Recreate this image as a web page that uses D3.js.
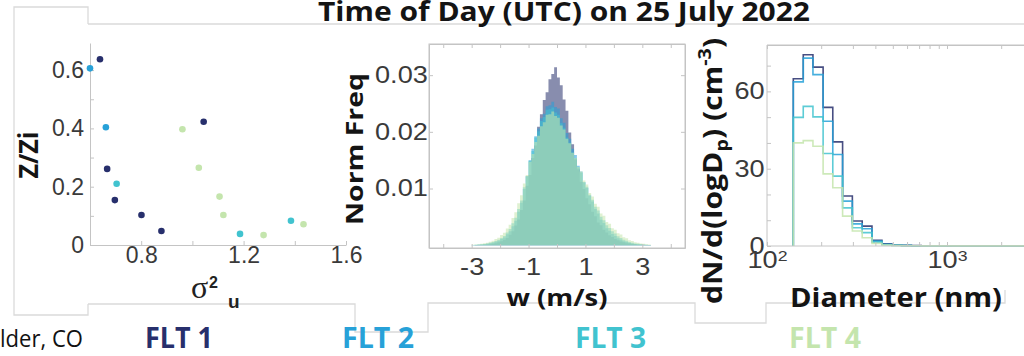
<!DOCTYPE html>
<html>
<head>
<meta charset="utf-8">
<script src="https://cdn.jsdelivr.net/npm/d3@7"></script>
<style>
  html, body { margin: 0; padding: 0; background: #fff; }
  svg { display: block; }
  .tick text { font-family: "Liberation Sans", Arial, sans-serif; font-size: 23px; fill: #3a3a3a; }
  .tick line, .domain { stroke: #c4c4c4; }
  .bold { font-family: "Open Sans", sans-serif; font-weight: 700; fill: #141414; }
</style>
</head>
<body>
<svg id="fig" width="1024" height="356"></svg>
<script>
// ---- data ----
const flights = ["FLT 1", "FLT 2", "FLT 3", "FLT 4"];
const flightColors = ["#272f6c", "#27a1d8", "#41c3cf", "#c4e5ad"];

// left panel: variance of u vs normalised height
const sigmaU = [
  [0.639, 1.044, 0.667, 0.697, 0.801, 0.879],
  [0.600, 0.662],
  [0.704, 1.186, 1.385],
  [0.961, 1.025, 1.106, 1.121, 1.278, 1.434]
];
const zOverZi = [
  [0.637, 0.423, 0.261, 0.154, 0.103, 0.048],
  [0.606, 0.404],
  [0.210, 0.038, 0.083],
  [0.397, 0.265, 0.166, 0.103, 0.034, 0.071]
];

// middle panel: histograms of w, bins of 0.1 m/s from -3.0, normalised freq in units of 1e-3
const wBinStart = -3.0;
const wBinWidth = 0.1;
const wFreq1 = [0.00, 0.02, 0.03, 0.05, 0.07, 0.13, 0.17, 0.27, 0.35, 0.52, 0.68, 0.97, 1.28, 1.84, 2.46, 3.45, 4.55, 6.2, 7.9, 10.5,
  12.4, 15.4, 17.6, 20.9, 23.1, 25.6, 27.0, 29.3, 30.2, 31.4, 29.6, 28.2, 25.7, 23.7, 19.9, 17.8, 15.1, 13.4, 11.2, 9.9,
  8.3, 7.2, 5.9, 5.1, 4.0, 3.5, 2.7, 2.25, 1.75, 1.42, 1.08, 0.87, 0.63, 0.51, 0.36, 0.28, 0.19, 0.15, 0.09, 0.07, 0.05, 0.03, 0.02];
const wFreq2 = [0.03, 0.05, 0.08, 0.12, 0.18, 0.23, 0.34, 0.44, 0.62, 0.78, 1.08, 1.37, 1.93, 2.46, 3.35, 4.3, 5.9, 7.5, 9.9, 12.2,
  15.0, 17.0, 19.2, 20.6, 22.4, 23.2, 24.5, 24.7, 25.3, 24.4, 24.1, 22.4, 21.6, 19.8, 18.8, 17.0, 15.9, 14.0, 13.0, 11.1,
  10.1, 8.7, 7.7, 6.4, 5.6, 4.5, 3.9, 3.0, 2.55, 1.95, 1.62, 1.22, 0.97, 0.7, 0.55, 0.39, 0.3, 0.2, 0.15, 0.1, 0.07, 0.05, 0.03];
const wFreq3 = [0.04, 0.06, 0.1, 0.14, 0.22, 0.29, 0.42, 0.54, 0.75, 0.94, 1.28, 1.62, 2.24, 2.86, 3.86, 4.85, 6.4, 7.9, 10.2, 12.1,
  14.9, 16.6, 19.0, 20.1, 21.9, 22.6, 23.9, 24.0, 24.3, 23.4, 23.0, 21.5, 20.7, 19.0, 18.1, 16.4, 15.4, 13.7, 12.8, 11.1,
  10.3, 8.9, 8.0, 6.8, 6.1, 5.0, 4.4, 3.5, 3.05, 2.45, 2.05, 1.56, 1.28, 0.95, 0.77, 0.55, 0.44, 0.31, 0.24, 0.15, 0.12, 0.07, 0.05];
const wFreq4 = [0.08, 0.12, 0.18, 0.23, 0.34, 0.44, 0.62, 0.78, 1.08, 1.32, 1.8, 2.2, 2.96, 3.62, 4.8, 5.8, 7.4, 8.8, 10.9, 12.4,
  14.7, 16.1, 18.2, 19.3, 21.0, 21.7, 23.0, 23.1, 23.6, 22.8, 22.5, 21.1, 20.4, 18.8, 18.0, 16.3, 15.4, 13.8, 13.0, 11.4,
  10.7, 9.2, 8.6, 7.3, 6.8, 5.6, 5.2, 4.1, 3.8, 3.0, 2.7, 2.1, 1.9, 1.4, 1.2, 0.85, 0.74, 0.5, 0.42, 0.28, 0.23, 0.14, 0.1];

// right panel: size distribution, bin edges in nm
const diamEdges = [140, 159, 180, 205, 232, 263, 298, 338, 383, 435, 493, 559, 634, 719, 816, 925,
  1049, 1190, 1350, 1531, 1737, 1970, 2234, 2534, 2875];
const dNdlogD1 = [64.9, 74.2, 69.4, 53.8, 40.4, 19.4, 9.7, 7.7, 2.2, 0.9, 0.4, 0.25, 0.15, 0.1, 0.1, 0.05, 0.1, 0.05, 0.05, 0.1, 0.05, 0.05, 0.05, 0.05];
const dNdlogD2 = [63.7, 72.9, 66.5, 48.4, 35.5, 17.4, 8.6, 6.7, 1.9, 0.7, 0.3, 0.2, 0.1, 0.1, 0.05, 0.05, 0.1, 0.05, 0.05, 0.05, 0.05, 0.05, 0.05, 0.05];
const dNdlogD3 = [49.9, 54.2, 50.1, 35.9, 27.1, 14.8, 7.1, 5.2, 1.5, 0.5, 0.25, 0.15, 0.1, 0.05, 0.05, 0.05, 0.05, 0.05, 0.05, 0.05, 0.05, 0.05, 0.05, 0.05];
const dNdlogD4 = [40.0, 40.9, 38.7, 28.0, 22.6, 11.6, 5.8, 3.2, 1.0, 0.4, 0.2, 0.1, 0.1, 0.05, 0.05, 0.05, 0.05, 0.05, 0.05, 0.05, 0.05, 0.05, 0.05, 0.05];

const p1Ticks = [0, 0.1, 0.2, 0.3, 0.4, 0.5, 0.6];
const p1XTicks = [0.8, 1.0, 1.2, 1.4, 1.6];
const p2YTicks = [10, 20, 30];
const p2XTicks = [-4, -3, -2, -1, 0, 1, 2, 3, 4];
const p3YTicks = [0, 10, 20, 30, 40, 50, 60, 70];
const p3XTicks = [100, 200, 300, 400, 500, 600, 700, 800, 900, 1000, 2000];

const svg = d3.select("#fig");
const frameColor = "#dadada";

// ---- slide frame lines (pieces of the composite) ----
const frames = [
  [[88, 24], [88, 7], [14, 7], [14, 315], [88, 315], [88, 304]],
  [[88, 24], [1024, 24]],
  [[88, 304], [355, 304], [355, 332], [428, 332], [428, 303], [695, 303], [695, 323], [766, 323], [766, 303], [1005, 303], [1005, 290]]
];
svg.selectAll(".frame").data(frames).enter().append("path")
  .attr("d", d3.line())
  .attr("fill", "none").attr("stroke", frameColor).attr("stroke-width", 1.3);

// ---- panel 1 ----
const x1 = d3.scaleLinear().domain([0.6, 1.6]).range([90, 346]);
const y1 = d3.scaleLinear().domain([0, 0.693]).range([245, 43]);

svg.append("g").attr("transform", "translate(90,0)")
  .call(d3.axisLeft(y1).tickValues(p1Ticks).tickSizeInner(-4).tickSizeOuter(0).tickPadding(6)
    .tickFormat(d => [0, 0.2, 0.4, 0.6].includes(d) ? (d === 0 ? "0" : d.toFixed(1)) : ""));
svg.append("g").attr("transform", "translate(0,245)")
  .call(d3.axisBottom(x1).tickValues(p1XTicks).tickSizeInner(-4).tickSizeOuter(0).tickPadding(2)
    .tickFormat(d => [0.8, 1.2, 1.6].includes(d) ? d.toFixed(1) : ""));

flights.forEach((f, k) => {
  svg.append("g").selectAll("circle")
    .data(d3.zip(sigmaU[k], zOverZi[k]))
    .enter().append("circle")
    .attr("cx", d => x1(d[0]))
    .attr("cy", d => y1(d[1]))
    .attr("r", 3.3)
    .attr("fill", flightColors[k]);
});

svg.append("text").attr("class", "bold").attr("font-size", 26)
  .attr("transform", "translate(38,155) rotate(-90)").attr("text-anchor", "middle")
  .attr("textLength", 47).attr("lengthAdjust", "spacingAndGlyphs").text("Z/Zi");
svg.append("text").attr("x", 191).attr("y", 298).attr("font-family", "Liberation Serif")
  .attr("font-size", 32).attr("fill", "#222").text("σ");
svg.append("text").attr("x", 209).attr("y", 288).attr("font-family", "Liberation Sans")
  .attr("font-weight", 700).attr("font-size", 16).attr("fill", "#222").text("2");
svg.append("text").attr("x", 228).attr("y", 308).attr("font-family", "Liberation Sans")
  .attr("font-weight", 700).attr("font-size", 19).attr("fill", "#222").text("u");

// ---- panel 2 ----
const x2 = d3.scaleLinear().domain([-4.5, 4.5]).range([429, 685]);
const y2 = d3.scaleLinear().domain([-0.5, 35.5]).range([248, 44]);
const wEdges = d3.range(wFreq1.length + 1).map(i => wBinStart + i * wBinWidth);

const histArea = d3.area()
  .x(d => x2(d[0])).y0(y2(0)).y1(d => y2(d[1]))
  .curve(d3.curveStepAfter);

[wFreq1, wFreq2, wFreq3, wFreq4].forEach((vals, k) => {
  const pts = vals.map((v, i) => [wEdges[i], v]).concat([[wEdges[vals.length], vals[vals.length - 1]]]);
  svg.append("path").datum(pts)
    .attr("d", histArea)
    .attr("fill", flightColors[k])
    .attr("fill-opacity", 0.55);
});

svg.append("rect").attr("x", 429).attr("y", 44).attr("width", 256).attr("height", 204)
  .attr("fill", "none").attr("stroke", "#c4c4c4");
const ax2L = svg.append("g").attr("transform", "translate(429,0)")
  .call(d3.axisLeft(y2).tickValues(p2YTicks).tickSizeInner(-4).tickSizeOuter(0).tickPadding(1)
    .tickFormat(d => (d / 1000).toFixed(2)));
const ax2B = svg.append("g").attr("transform", "translate(0,248)")
  .call(d3.axisBottom(x2).tickValues(p2XTicks).tickSizeInner(-4).tickSizeOuter(0).tickPadding(11)
    .tickFormat(d => [-3, -1, 1, 3].includes(d) ? String(d) : ""));
svg.append("g").attr("transform", "translate(0,44)")
  .call(d3.axisTop(x2).tickValues(p2XTicks).tickSizeInner(-4).tickSizeOuter(0).tickFormat(""));
svg.append("g").attr("transform", "translate(685,0)")
  .call(d3.axisRight(y2).tickValues(p2YTicks).tickSizeInner(-4).tickSizeOuter(0).tickFormat(""));
ax2L.selectAll(".tick text").attr("transform", "scale(1.18,1)");
ax2B.selectAll(".tick text").attr("transform", "scale(1.18,1)");

svg.append("text").attr("class", "bold").attr("font-size", 24)
  .attr("transform", "translate(363,149) rotate(-90)").attr("text-anchor", "middle")
  .attr("textLength", 152).attr("lengthAdjust", "spacingAndGlyphs").text("Norm Freq");
svg.append("text").attr("class", "bold").attr("font-size", 24)
  .attr("x", 557).attr("y", 306).attr("text-anchor", "middle")
  .attr("textLength", 101).attr("lengthAdjust", "spacingAndGlyphs").text("w (m/s)");

// ---- panel 3 ----
const x3 = d3.scaleLog().domain([100, 3000]).range([767, 767 + 180 * Math.log10(30)]);
const y3 = d3.scaleLinear().domain([0, 78]).range([246, 45]);

const stairs = d3.line().x(d => x3(d[0])).y(d => y3(d[1])).curve(d3.curveStepAfter);
[dNdlogD1, dNdlogD2, dNdlogD3, dNdlogD4].forEach((vals, k) => {
  const n = vals.length;
  const pts = [[diamEdges[0], 0]]
    .concat(vals.map((v, i) => [diamEdges[i], v]))
    .concat([[diamEdges[n], vals[n - 1]], [diamEdges[n], 0]]);
  svg.append("path").datum(pts)
    .attr("d", stairs)
    .attr("fill", "none")
    .attr("stroke", flightColors[k])
    .attr("stroke-opacity", 0.85)
    .attr("stroke-width", 1.6);
});

svg.append("path").attr("d", `M1024,45H767V246H1024`)
  .attr("fill", "none").attr("stroke", "#c4c4c4");
const ax3L = svg.append("g").attr("transform", "translate(767,0)")
  .call(d3.axisLeft(y3).tickValues(p3YTicks).tickSizeInner(-4).tickSizeOuter(0).tickPadding(2)
    .tickFormat(d => [0, 30, 60].includes(d) ? String(d) : ""));
const ax3B = svg.append("g").attr("transform", "translate(0,246)")
  .call(d3.axisBottom(x3).tickValues(p3XTicks).tickSizeInner(-4).tickSizeOuter(0).tickPadding(6)
    .tickFormat(""));
svg.append("g").attr("transform", "translate(0,45)")
  .call(d3.axisTop(x3).tickValues(p3XTicks).tickSizeInner(-4).tickSizeOuter(0).tickFormat(""));
ax3L.selectAll(".domain").remove();
ax3B.selectAll(".domain").remove();
ax3L.selectAll(".tick text").attr("transform", "scale(1.18,1)");
ax3B.selectAll(".tick text").each(function (d) {
  if (d === 100 || d === 1000) {
    const t = d3.select(this).attr("transform", "scale(1.18,1)").text("10");
    t.append("tspan").attr("dy", "-0.5em").attr("font-size", "15px").text(d === 100 ? "2" : "3");
  }
});

const dnLabel = svg.append("text").attr("class", "bold").attr("font-size", 26)
  .attr("transform", "translate(722,171) rotate(-90) scale(1.16,1)").attr("text-anchor", "middle");
dnLabel.append("tspan").text("dN/d(logD");
dnLabel.append("tspan").attr("font-size", 17).attr("dy", 6).text("p");
dnLabel.append("tspan").attr("dy", -6).text(") (cm");
dnLabel.append("tspan").attr("font-size", 17).attr("dy", -11).text("-3");
dnLabel.append("tspan").attr("dy", 11).text(")");

svg.append("text").attr("class", "bold").attr("font-size", 27)
  .attr("x", 896).attr("y", 307).attr("text-anchor", "middle")
  .attr("textLength", 212).attr("lengthAdjust", "spacingAndGlyphs").text("Diameter (nm)");

// ---- title and footer ----
svg.append("text").attr("class", "bold").attr("font-size", 26)
  .attr("x", 564).attr("y", 21).attr("text-anchor", "middle")
  .attr("textLength", 492).attr("lengthAdjust", "spacingAndGlyphs")
  .text("Time of Day (UTC) on 25 July 2022");

svg.append("text").attr("transform", "translate(83,347) scale(0.92,1)")
  .attr("text-anchor", "end").attr("font-family", "Open Sans").attr("font-size", 24)
  .attr("fill", "#111").text("Boulder, CO");

const flightLabelX = [145, 342, 575, 789];
const flightLabelW = [68, 72, 71, 72];
svg.selectAll(".flt").data(flights).enter().append("text")
  .attr("class", "bold").attr("font-size", 29)
  .attr("x", (d, i) => flightLabelX[i]).attr("y", 348)
  .attr("textLength", (d, i) => flightLabelW[i]).attr("lengthAdjust", "spacingAndGlyphs")
  .style("fill", (d, i) => flightColors[i])
  .text(d => d);
</script>
</body>
</html>
